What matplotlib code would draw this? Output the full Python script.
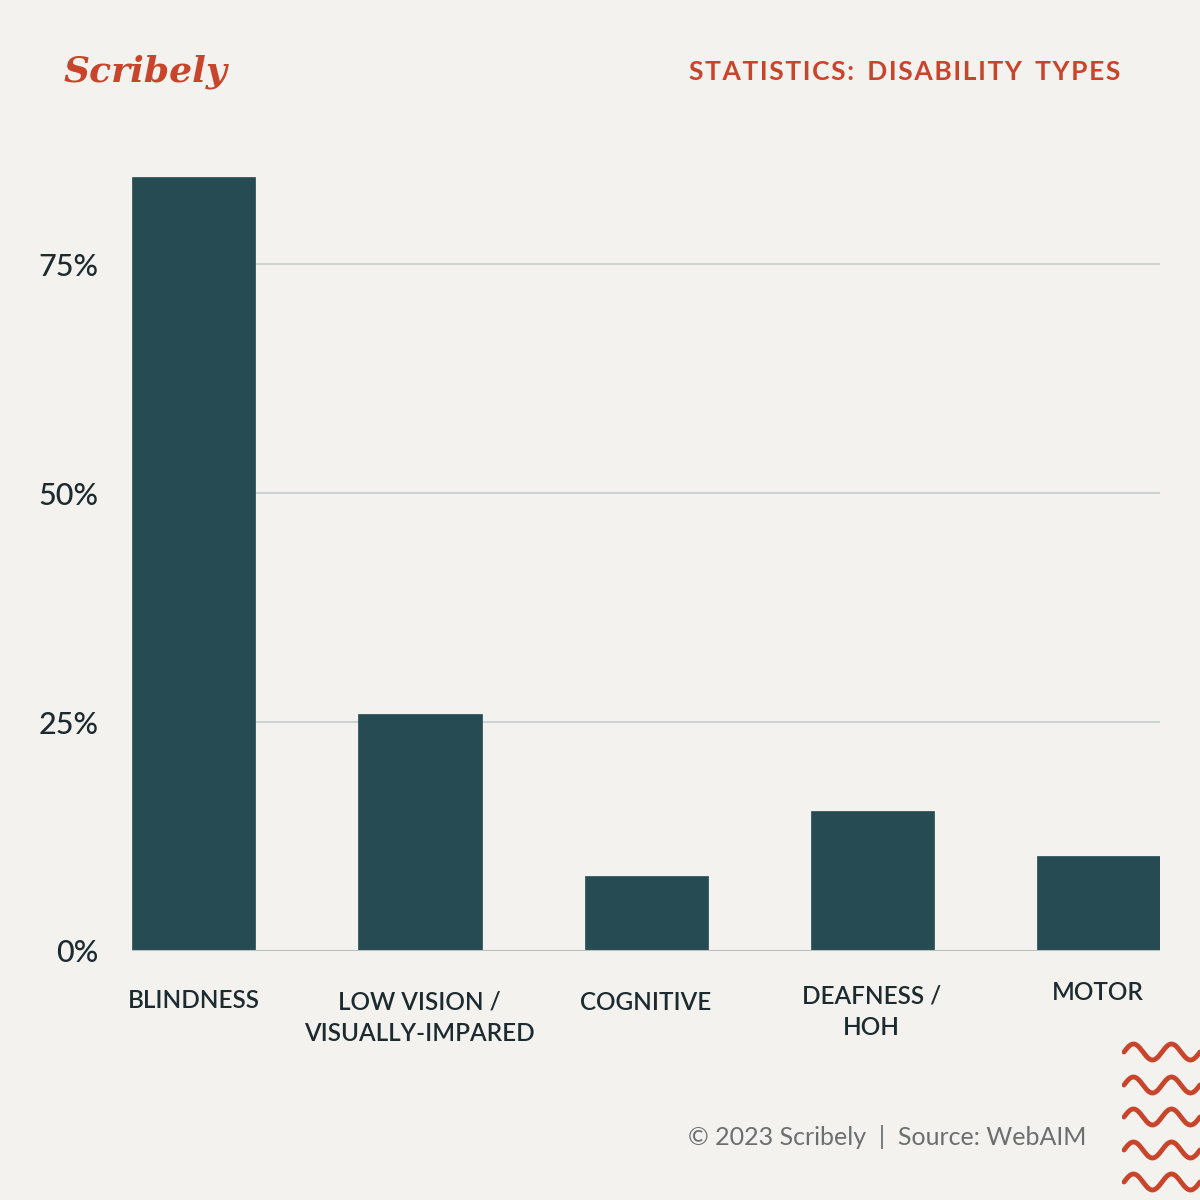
import matplotlib
matplotlib.use("Agg")
import matplotlib.pyplot as plt
import numpy as np

categories = ["BLINDNESS", "LOW VISION /\nVISUALLY-IMPARED", "COGNITIVE", "DEAFNESS /\nHOH", "MOTOR"]
values = [84.5, 25.9, 8.2, 15.3, 10.4]
yticks = [0, 25, 50, 75]
ytick_labels = ["0%", "25%", "50%", "75%"]

BG = "#F4F2EE"
BAR = "#264B52"
RED = "#C8442A"
TXT = "#1B2B30"

fig = plt.figure(figsize=(12, 12), dpi=100, facecolor=BG)
ax = fig.add_axes([0.11, 0.2075, 0.857, 0.645])
ax.set_facecolor(BG)
ax.set_xlim(-0.272, 4.272)
ax.set_ylim(0, 84.5)
for y in yticks[1:]:
    ax.axhline(y, color="#C5CCCA", lw=1.2, zorder=1)
ax.axhline(0, color="#B8BFBD", lw=1.5, zorder=3)
ax.bar(range(len(values)), values, width=0.545, color=BAR, zorder=2, edgecolor=BAR, lw=0.5)
ax.set_yticks(yticks)
ax.set_yticklabels(ytick_labels, fontsize=22, color=TXT, family="Lato", fontweight="medium")
ax.tick_params(axis="y", length=0, pad=24)
ax.set_xticks([])
for s in ax.spines.values():
    s.set_visible(False)

label_y = [1001, 1018, 1002, 1012, 993]
for i, (c, ly) in enumerate(zip(categories, label_y)):
    fig.text((132 + 61.5 + i * 226) / 1200, 1 - ly / 1200, c, ha="center", va="center",
             fontsize=17.5, color=TXT, family="Lato", fontweight="semibold", linespacing=1.45)

fig.text(145 / 1200, 1 - 72 / 1200, "Scribely", ha="center", va="center", fontsize=26,
         color=RED, family="DejaVu Serif", style="italic", fontweight="bold")
title = "STATISTICS: DISABILITY TYPES"
spaced = "\u200a".join(title).replace("\u200a \u200a", "\u2002")
fig.text(1120 / 1200, 1 - 72 / 1200, spaced,
         ha="right", va="center", fontsize=19, color=RED, family="Lato", fontweight="bold")
fig.text(887 / 1200, 1 - 1137 / 1200, "© 2023 Scribely  |  Source: WebAIM", ha="center", va="center",
         fontsize=18, color="#6B6F70", family="Lato")

wax = fig.add_axes([1122 / 1200, 0, 78 / 1200, 160 / 1200])
wax.set_xlim(0, 78); wax.set_ylim(160, 0); wax.axis("off")
xs = np.linspace(2, 78, 300)
for yc in [12, 45, 77, 110, 142]:
    wax.plot(xs, yc - 8 * np.sin((xs - 2) / 38 * 2 * np.pi), color=RED, lw=3.5,
             solid_capstyle="round")

fig.savefig("out.png", dpi=100, facecolor=BG)
